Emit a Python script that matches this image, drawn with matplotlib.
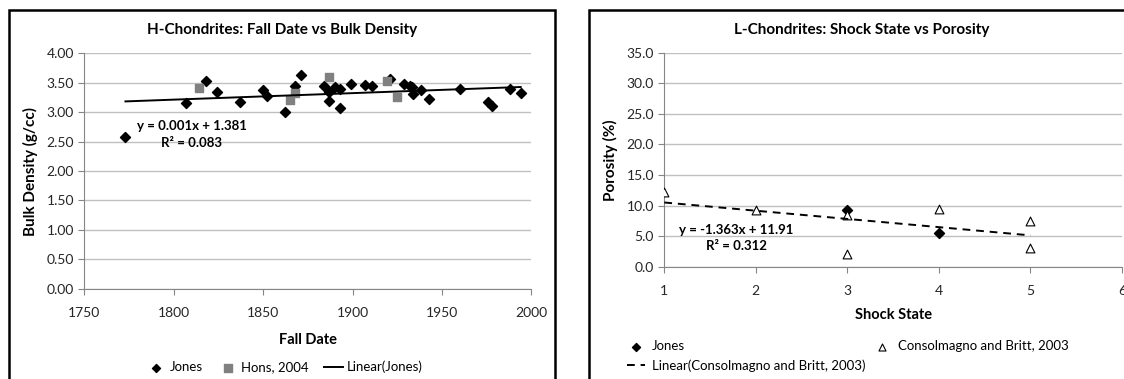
import matplotlib.pyplot as plt
import numpy as np
from matplotlib.patches import Rectangle
from matplotlib.ticker import FormatStrFormatter

plt.rcParams['font.family'] = ['Lato', 'DejaVu Sans']

# H-chondrites (left chart)
jones_year = [1773, 1807, 1818, 1824, 1837, 1850, 1852, 1862, 1868, 1871,
              1884, 1887, 1887, 1890, 1893, 1893, 1899, 1907, 1911, 1921,
              1929, 1932, 1933, 1934, 1938, 1943, 1960, 1976, 1978, 1988, 1994]
jones_dens = [2.57, 3.16, 3.53, 3.35, 3.17, 3.37, 3.27, 3.00, 3.44, 3.63,
              3.44, 3.35, 3.19, 3.42, 3.40, 3.07, 3.47, 3.46, 3.44, 3.56,
              3.48, 3.45, 3.43, 3.31, 3.38, 3.22, 3.39, 3.17, 3.11, 3.39, 3.33]
hons_year = [1814, 1865, 1868, 1887, 1919, 1925]
hons_dens = [3.41, 3.20, 3.33, 3.60, 3.53, 3.25]

# L-chondrites (right chart)
jones_shock = [3, 4]
jones_por = [9.2, 5.5]
cb_shock = [1, 2, 3, 3, 4, 5, 5]
cb_por = [12.2, 9.3, 8.5, 2.0, 9.5, 7.4, 3.1]

W, H = 1124, 379
fig = plt.figure(figsize=(W / 100, H / 100), dpi=100)

def px_axes(l, r, t, b):
    return fig.add_axes([l / W, (H - b) / H, (r - l) / W, (b - t) / H])

# chart frames
fig.add_artist(Rectangle((8.6 / W, -0.1), (555 - 8.6) / W, (H - 10) / H + 0.1,
                         transform=fig.transFigure, fill=False, ec='black', lw=1.8))
fig.add_artist(Rectangle((589 / W, -0.1), (1140 - 589) / W, (H - 10) / H + 0.1,
                         transform=fig.transFigure, fill=False, ec='black', lw=1.8))

grid_c = '#c0c0c0'
axis_c = '#868686'

def style(ax):
    ax.grid(axis='y', color=grid_c, lw=1)
    ax.set_axisbelow(True)
    for s in ['top', 'right']:
        ax.spines[s].set_visible(False)
    for s in ['left', 'bottom']:
        ax.spines[s].set_color(axis_c)
    ax.tick_params(colors=axis_c, labelcolor='#262626', labelsize=10, length=4)

# ---- left chart ----
ax1 = px_axes(84.3, 531.4, 53.3, 288.7)
style(ax1)
ax1.scatter(jones_year, jones_dens, marker='D', s=26, color='black', zorder=3, label='Jones')
ax1.scatter(hons_year, hons_dens, marker='s', s=40, color='#808080', zorder=3, label='Hons, 2004')
k, c = np.polyfit(jones_year, jones_dens, 1)
xl = np.array([min(jones_year), max(jones_year)])
ax1.plot(xl, k * xl + c, color='black', lw=1.4, zorder=4, label='Linear(Jones)')
ax1.set_xlim(1750, 2000)
ax1.set_ylim(0, 4)
ax1.set_xticks([1750, 1800, 1850, 1900, 1950, 2000])
ax1.set_yticks(np.arange(0, 4.01, 0.5))
ax1.yaxis.set_major_formatter(FormatStrFormatter('%.2f'))
ax1.tick_params(axis='x', pad=9)
ax1.set_xlabel('Fall Date', fontsize=10.5, fontweight='bold', labelpad=10)
ax1.set_ylabel('Bulk Density (g/cc)', fontsize=11, fontweight='bold', labelpad=6)
ax1.text(1810, 2.76, 'y = 0.001x + 1.381', ha='center', va='center', fontsize=9.5, fontweight='bold')
ax1.text(1810, 2.48, 'R² = 0.083', ha='center', va='center', fontsize=9.5, fontweight='bold')
fig.text(281.8 / W, (H - 30) / H, 'H-Chondrites: Fall Date vs Bulk Density',
         ha='center', va='center', fontsize=11, fontweight='bold')
ax1.legend(loc='center', bbox_to_anchor=(285 / W, (H - 367) / H), bbox_transform=fig.transFigure,
           ncol=3, frameon=False, fontsize=9.5, handlelength=1.4, handletextpad=0.3,
           columnspacing=1.2, borderpad=0, markerscale=0.8)

# ---- right chart ----
ax2 = px_axes(664.3, 1122, 52.7, 266.7)
style(ax2)
h_j = ax2.scatter(jones_shock, jones_por, marker='D', s=26, color='black', zorder=3, label='Jones')
h_c = ax2.scatter(cb_shock, cb_por, marker='^', s=40, facecolor='white', edgecolor='black',
                  lw=0.8, zorder=3, label='Consolmagno and Britt, 2003')
k2, c2 = np.polyfit(cb_shock, cb_por, 1)
xs = np.array([min(cb_shock), max(cb_shock)])
h_l, = ax2.plot(xs, k2 * xs + c2, color='black', lw=1.4, ls=(0, (4, 3)), zorder=4,
                label='Linear(Consolmagno and Britt, 2003)')
ax2.set_xlim(1, 6)
ax2.set_ylim(0, 35)
ax2.set_xticks([1, 2, 3, 4, 5, 6])
ax2.set_yticks(np.arange(0, 35.1, 5))
ax2.yaxis.set_major_formatter(FormatStrFormatter('%.1f'))
ax2.tick_params(axis='x', pad=9)
ax2.set_xlabel('Shock State', fontsize=10.5, fontweight='bold', labelpad=8)
ax2.set_ylabel('Porosity (%)', fontsize=11, fontweight='bold', labelpad=6)
ax2.text(1.79, 6.0, 'y = -1.363x + 11.91', ha='center', va='center', fontsize=9.5, fontweight='bold')
ax2.text(1.79, 3.4, 'R² = 0.312', ha='center', va='center', fontsize=9.5, fontweight='bold')
fig.text(861.5 / W, (H - 30) / H, 'L-Chondrites: Shock State vs Porosity',
         ha='center', va='center', fontsize=11, fontweight='bold')
ax2.legend([h_j, h_l, h_c], ['Jones', 'Linear(Consolmagno and Britt, 2003)', 'Consolmagno and Britt, 2003'],
           loc='center left', bbox_to_anchor=(620 / W, (H - 356) / H), bbox_transform=fig.transFigure,
           ncol=2, frameon=False, fontsize=9.5, handlelength=1.4, handletextpad=0.5,
           columnspacing=0.6, labelspacing=0.5, borderpad=0, markerscale=0.8)

fig.savefig('out.png', dpi=100)
